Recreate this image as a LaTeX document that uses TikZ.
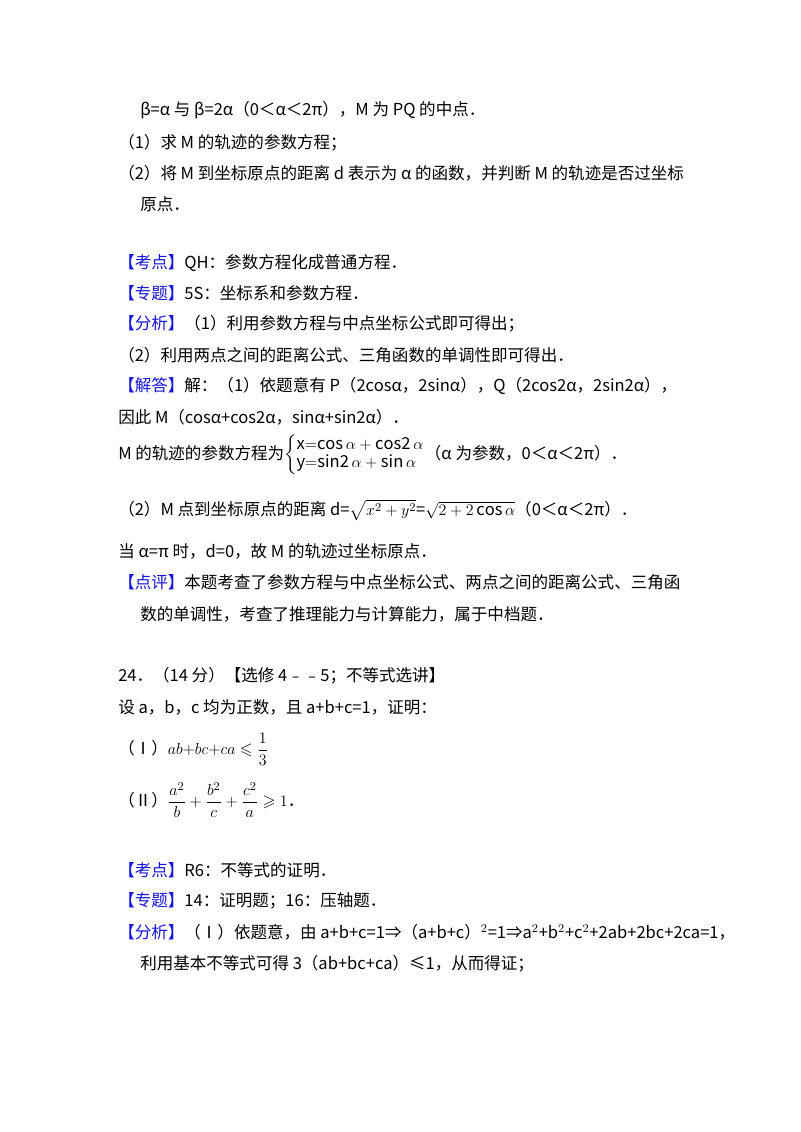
\documentclass[tikz,border=0pt]{standalone}
\usepackage{amsmath,amssymb}
\usepackage{fontspec}
\setmainfont{Noto Sans CJK SC}
\definecolor{kb}{RGB}{20,20,230}
\newcommand{\kh}[1]{{\color{kb}【#1】}}
\begin{document}
\begin{tikzpicture}[x=0.75pt,y=-0.75pt,
  t/.style={anchor=west,inner sep=0pt,font=\fontsize{12.4}{15}\selectfont}]
\useasboundingbox[fill=white] (0,0) rectangle (800,1132);
\node[t] (l1) at (140,110) {β=α 与 β=2α（0＜α＜2π），M 为 PQ 的中点．};
\node[t] (l2) at (118,143) {（1）求 M 的轨迹的参数方程；};
\node[t] (l3) at (118,173) {（2）将 M 到坐标原点的距离 d 表示为 α 的函数，并判断 M 的轨迹是否过坐标};
\node[t] (l4) at (140,204) {原点．};
\node[t] (l5) at (118,263) {\kh{考点}QH：参数方程化成普通方程．};
\node[t] (l6) at (118,293) {\kh{专题}5S：坐标系和参数方程．};
\node[t] (l7) at (118,324) {\kh{分析}（1）利用参数方程与中点坐标公式即可得出；};
\node[t] (l8) at (118,355) {（2）利用两点之间的距离公式、三角函数的单调性即可得出．};
\node[t] (l9) at (118,386) {\kh{解答}解：（1）依题意有 P（2cosα，2sinα），Q（2cos2α，2sin2α），};
\node[t] (l10) at (118,417) {因此 M（cosα+cos2α，sinα+sin2α）．};
\node[t] (l11) at (118,455) {M 的轨迹的参数方程为$\renewcommand\arraystretch{0.85}\left\{\begin{array}{@{}l@{}}\mathrm{x{=}cos}\,\alpha+\mathrm{cos2}\,\alpha\\ \mathrm{y{=}sin2}\,\alpha+\mathrm{sin}\,\alpha\end{array}\right.$（α 为参数，0＜α＜2π）．};
\node[t] (l12) at (118,510) {（2）M 点到坐标原点的距离 d=$\sqrt{x^2+y^2}$=$\sqrt{2+2\cos\alpha}$（0＜α＜2π）．};
\node[t] (l13) at (118,551) {当 α=π 时，d=0，故 M 的轨迹过坐标原点．};
\node[t] (l14) at (118,582) {\kh{点评}本题考查了参数方程与中点坐标公式、两点之间的距离公式、三角函};
\node[t] (l15) at (140,614) {数的单调性，考查了推理能力与计算能力，属于中档题．};
\node[t] (l16) at (118,676) {24．（14 分）【选修 4﹣﹣5；不等式选讲】};
\node[t] (l17) at (118,707) {设 a，b，c 均为正数，且 a+b+c=1，证明：};
\node[t] (l18) at (118,749) {（Ⅰ）$ab{+}bc{+}ca\leqslant\dfrac13$};
\node[t] (l19) at (118,800) {（Ⅱ）$\dfrac{a^2}{b}+\dfrac{b^2}{c}+\dfrac{c^2}{a}\geqslant1$．};
\node[t] (l20) at (118,870) {\kh{考点}R6：不等式的证明．};
\node[t] (l21) at (118,901) {\kh{专题}14：证明题；16：压轴题．};
\node[t] (l22) at (118,932) {\kh{分析}（Ⅰ）依题意，由 a+b+c=1⇒（a+b+c）$^2$=1⇒a$^2$+b$^2$+c$^2$+2ab+2bc+2ca=1，};
\node[t] (l23) at (140,964) {利用基本不等式可得 3（ab+bc+ca）≤1，从而得证；};
\end{tikzpicture}
\end{document}
